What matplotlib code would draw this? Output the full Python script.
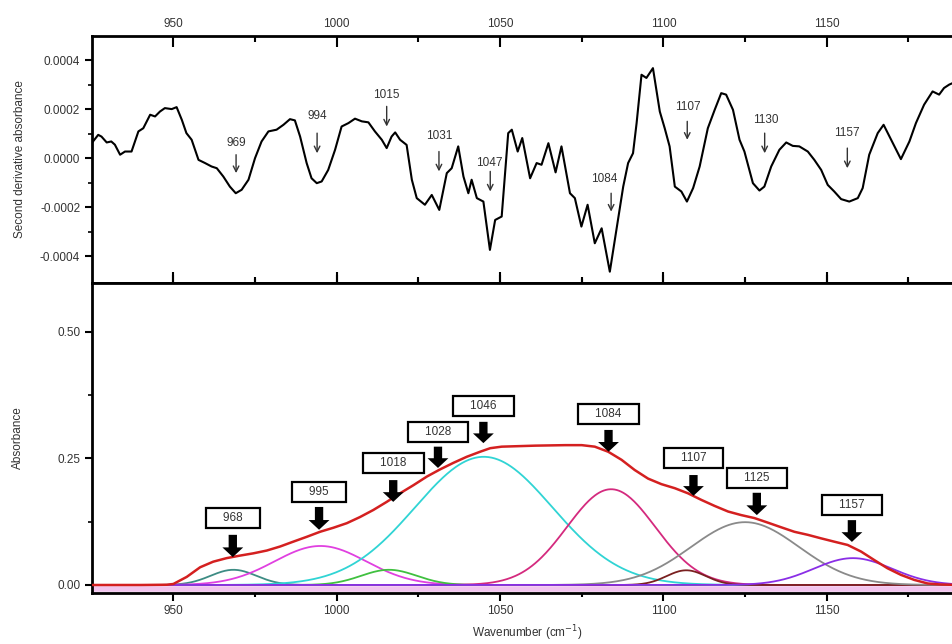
import numpy as np
import matplotlib
matplotlib.use("Agg")
import matplotlib.pyplot as plt

plt.rcParams['font.family'] = ['Liberation Sans', 'DejaVu Sans']

# ---------------- data: second derivative spectrum (top panel) ----------------
d2_wn = [925.0, 927.0, 928.0, 929.6, 931.0, 932.1, 933.7, 935.2, 937.2, 939.3, 940.8,
         942.9, 944.4, 945.9, 947.4, 949.5, 951.0, 952.6, 954.0, 955.6, 957.7, 959.7,
         961.7, 963.3, 965.3, 967.3, 969.1, 970.9, 973.0, 975.0, 977.0, 979.1, 981.6,
         983.7, 985.7, 987.2, 988.8, 990.8, 992.3, 993.9, 995.4, 997.4, 999.5, 1001.5,
         1003.6, 1005.6, 1007.7, 1009.7, 1011.7, 1013.8, 1015.3, 1016.8, 1017.9, 1019.4,
         1021.4, 1023.0, 1024.5, 1027.0, 1029.1, 1031.4, 1033.7, 1035.2, 1037.2, 1038.8,
         1040.3, 1041.3, 1042.9, 1044.9, 1046.9, 1048.5, 1050.5, 1052.5, 1053.6, 1055.4,
         1056.8, 1059.2, 1061.2, 1062.7, 1064.8, 1067.0, 1068.8, 1071.4, 1072.9, 1074.9,
         1076.8, 1079.0, 1081.1, 1083.6, 1085.6, 1087.7, 1089.2, 1090.7, 1091.8, 1093.3,
         1094.8, 1096.8, 1098.9, 1100.4, 1101.9, 1103.5, 1105.5, 1107.2, 1109.1, 1111.1,
         1113.6, 1115.7, 1117.7, 1119.2, 1121.3, 1123.3, 1124.8, 1127.4, 1129.4, 1130.9,
         1133.0, 1135.5, 1137.6, 1139.6, 1141.6, 1144.2, 1146.2, 1148.3, 1150.3, 1152.3,
         1154.4, 1156.9, 1159.5, 1161.0, 1163.0, 1165.6, 1167.4, 1169.7, 1172.7, 1175.3,
         1177.3, 1179.8, 1182.4, 1184.4, 1185.9, 1187.5, 1191.0]
d2_val = [0.61, 0.95, 0.88, 0.64, 0.68, 0.55, 0.14, 0.27, 0.27, 1.09, 1.22,
          1.77, 1.70, 1.90, 2.04, 2.00, 2.08, 1.56, 1.02, 0.75, -0.07, -0.20,
          -0.34, -0.41, -0.75, -1.16, -1.43, -1.29, -0.88, 0.00, 0.68, 1.09, 1.16,
          1.36, 1.59, 1.54, 0.88, -0.20, -0.82, -1.02, -0.95, -0.48, 0.34, 1.29,
          1.43, 1.61, 1.50, 1.46, 1.09, 0.75, 0.41, 0.88, 1.05, 0.75,
          0.54, -0.88, -1.63, -1.90, -1.50, -2.11, -0.61, -0.41, 0.48, -0.75,
          -1.43, -0.88, -1.63, -1.77, -3.74, -2.52, -2.38, 1.02, 1.16, 0.27,
          0.82, -0.82, -0.20, -0.27, 0.61, -0.58, 0.48, -1.43, -1.63, -2.79,
          -1.90, -3.47, -2.86, -4.63, -2.93, -1.16, -0.20, 0.20, 1.43, 3.40,
          3.27, 3.67, 1.90, 1.22, 0.48, -1.16, -1.36, -1.77, -1.22, -0.34,
          1.22, 1.97, 2.65, 2.59, 1.97, 0.75, 0.27, -1.02, -1.32, -1.16,
          -0.34, 0.34, 0.64, 0.50, 0.48, 0.27, -0.07, -0.48, -1.09, -1.36,
          -1.67, -1.77, -1.63, -1.22, 0.14, 1.02, 1.36, 0.75, -0.04, 0.68,
          1.43, 2.18, 2.72, 2.59, 2.86, 3.00, 3.20]  # units of 1e-4

# top annotations: label, arrow x, text y, arrow start, arrow end (units 1e-4)
top_labels = ['969', '994', '1015', '1031', '1047', '1084', '1107', '1130', '1157']
top_x      = [969.2, 994.0, 1015.3, 1031.3, 1047.0, 1084.0, 1107.3, 1131.0, 1156.3]
top_text_x = [969.4, 994.0, 1015.3, 1031.3, 1046.6, 1082.0, 1107.5, 1131.3, 1156.1]
top_text_y = [0.61, 1.70, 2.58, 0.91, -0.20, -0.86, 2.08, 1.56, 1.02]
top_arr_y0 = [0.14, 1.02, 2.11, 0.27, -0.54, -1.43, 1.50, 1.02, 0.41]
top_arr_y1 = [-0.61, 0.20, 1.29, -0.54, -1.36, -2.18, 0.75, 0.20, -0.41]

# ---------------- data: absorbance spectrum (bottom panel) ----------------
abs_wn = [925.0, 940.0, 948.0, 950.0, 954.1, 958.2, 962.2, 966.3, 970.4, 974.5, 978.6,
          982.7, 986.7, 990.8, 994.9, 999.0, 1003.1, 1007.1, 1011.2, 1015.3, 1019.4,
          1023.5, 1027.6, 1031.6, 1035.7, 1039.8, 1043.9, 1047.0, 1050.5, 1060.7, 1070.0,
          1075.0, 1079.0, 1083.1, 1087.2, 1091.2, 1095.3, 1099.4, 1103.5, 1107.5, 1111.6,
          1115.7, 1119.8, 1123.8, 1127.9, 1132.0, 1136.0, 1140.1, 1144.2, 1148.3, 1152.3,
          1156.4, 1160.5, 1164.6, 1168.6, 1172.7, 1176.8, 1180.9, 1184.9, 1191.0]
abs_val = [0.0, 0.0, 0.0005, 0.002, 0.016, 0.035, 0.046, 0.053, 0.058, 0.0625, 0.068,
           0.076, 0.0855, 0.095, 0.105, 0.113, 0.122, 0.134, 0.148, 0.164, 0.181,
           0.197, 0.214, 0.228, 0.241, 0.253, 0.263, 0.270, 0.273, 0.275, 0.276,
           0.276, 0.273, 0.263, 0.247, 0.227, 0.210, 0.199, 0.191, 0.181, 0.168,
           0.156, 0.145, 0.138, 0.132, 0.123, 0.114, 0.105, 0.099, 0.092, 0.0855,
           0.079, 0.066, 0.049, 0.033, 0.020, 0.010, 0.003, 0.001, 0.0]

# fitted Gaussian components: centre, height, sigma
comp_center = [968.4, 995.0, 1016.0, 1045.0, 1084.0, 1107.0, 1125.0, 1158.0]
comp_height = [0.030, 0.077, 0.030, 0.253, 0.189, 0.029, 0.124, 0.053]
comp_sigma  = [7.0, 14.0, 8.5, 21.0, 13.5, 6.0, 16.5, 12.0]
comp_color  = ['#3d8c84', '#e040e0', '#40c040', '#30d4d4', '#d42a7e',
               '#7a2020', '#8a8a8a', '#8a2ee6']

# bottom annotations
bot_labels = ['968', '995', '1018', '1028', '1046', '1084', '1107', '1125', '1157']
bot_x      = [968.2, 994.6, 1017.3, 1031.0, 1044.9, 1083.2, 1109.2, 1128.6, 1157.7]
bot_box_y  = [0.132, 0.184, 0.241, 0.302, 0.353, 0.337, 0.250, 0.211, 0.158]
bot_arr_y0 = [0.099, 0.154, 0.207, 0.273, 0.322, 0.306, 0.217, 0.182, 0.128]
bot_arr_y1 = [0.055, 0.109, 0.164, 0.231, 0.280, 0.263, 0.176, 0.138, 0.085]

# ---------------- figure ----------------
W, H = 952, 644
fig = plt.figure(figsize=(W / 100, H / 100), dpi=100)
xl = (925.1, 1191.4)
left = 92 / W
width = (962 - 92) / W
ax1 = fig.add_axes([left, (H - 283) / H, width, (283 - 36) / H])
ax2 = fig.add_axes([left, (H - 593) / H, width, (593 - 283) / H])

txtc = '#333333'
fs = 8.5

# top panel
ax1.plot(d2_wn, np.array(d2_val) * 1e-4, color='black', lw=1.5)
ax1.set_xlim(*xl)
ax1.set_ylim(-0.000509, 0.000498)
for lab, xa, tx, ty, y0, y1 in zip(top_labels, top_x, top_text_x, top_text_y,
                                    top_arr_y0, top_arr_y1):
    ax1.text(tx, ty * 1e-4, lab, ha='center', va='center', fontsize=fs, color=txtc)
    ax1.annotate('', xy=(xa, y1 * 1e-4), xytext=(xa, y0 * 1e-4),
                 arrowprops=dict(arrowstyle='->', color='#333333', lw=1.0,
                                 shrinkA=0, shrinkB=0, mutation_scale=10))
ax1.set_yticks([-0.0004, -0.0002, 0.0, 0.0002, 0.0004])
ax1.set_yticklabels(['-0.0004', '-0.0002', '0.0000', '0.0002', '0.0004'])
ax1.set_yticks([-0.0003, -0.0001, 0.0001, 0.0003], minor=True)
ax1.set_xticks([950, 1000, 1050, 1100, 1150])
ax1.set_xticks([975, 1025, 1075, 1125, 1175], minor=True)
ax1.xaxis.tick_top()
ax1.tick_params(axis='x', which='both', top=True, bottom=True, labeltop=True,
                labelbottom=False, direction='in')
ax1.tick_params(axis='x', which='major', length=8, width=1.5, pad=4)
ax1.tick_params(axis='x', which='minor', length=4, width=1.5)
ax1.tick_params(axis='y', which='major', direction='out', length=5, width=1.5)
ax1.tick_params(axis='y', which='minor', direction='out', length=3, width=1.2)
ax1.tick_params(labelsize=fs, labelcolor=txtc)
ax1.set_ylabel('Second derivative absorbance', fontsize=fs, color=txtc, labelpad=10)

# bottom panel
ax2.plot([xl[0], xl[1]], [-0.008, -0.008], color='#f2c4ee', lw=4, zorder=1)
ax2.plot([xl[0], xl[1]], [0.0, 0.0], color='#5a28c8', lw=1.3, zorder=2)
xs = np.linspace(xl[0], xl[1], 800)
for c, h, s, col in zip(comp_center, comp_height, comp_sigma, comp_color):
    ax2.plot(xs, h * np.exp(-(xs - c) ** 2 / (2 * s ** 2)), color=col, lw=1.3, zorder=3)
ax2.plot(abs_wn, abs_val, color='#d42020', lw=1.8, zorder=4)
for lab, xa, by, y0, y1 in zip(bot_labels, bot_x, bot_box_y, bot_arr_y0, bot_arr_y1):
    ax2.text(xa, by, '    ' + lab + '    ', ha='center', va='center', fontsize=fs,
             color=txtc, zorder=6,
             bbox=dict(boxstyle='square,pad=0.35', fc='white', ec='black', lw=1.6))
    ax2.annotate('', xy=(xa, y1), xytext=(xa, y0),
                 arrowprops=dict(width=6, headwidth=15, headlength=7,
                                 facecolor='black', edgecolor='black', lw=0,
                                 shrink=0), zorder=6)
ax2.set_xlim(*xl)
ax2.set_ylim(-0.0158, 0.596)
ax2.set_yticks([0.0, 0.25, 0.5])
ax2.set_yticklabels(['0.00', '0.25', '0.50'])
ax2.set_yticks([0.125, 0.375], minor=True)
ax2.set_xticks([950, 1000, 1050, 1100, 1150])
ax2.set_xticks([975, 1025, 1075, 1125, 1175], minor=True)
ax2.tick_params(axis='x', which='both', top=True, bottom=True, direction='out')
ax2.tick_params(axis='x', which='major', length=6, width=1.5, pad=3)
ax2.tick_params(axis='x', which='minor', length=3, width=1.5)
ax2.tick_params(axis='y', which='major', direction='out', length=5, width=1.5)
ax2.tick_params(axis='y', which='minor', direction='out', length=3, width=1.2)
ax2.tick_params(labelsize=fs, labelcolor=txtc)
ax2.set_ylabel('Absorbance', fontsize=fs, color=txtc, labelpad=24)
ax2.set_xlabel('Wavenumber (cm$^{-1}$)', fontsize=fs, color=txtc, labelpad=4)

for ax in (ax1, ax2):
    for sp in ax.spines.values():
        sp.set_linewidth(2.0)
    ax.spines['right'].set_visible(False)

fig.savefig('out.png', dpi=100)
